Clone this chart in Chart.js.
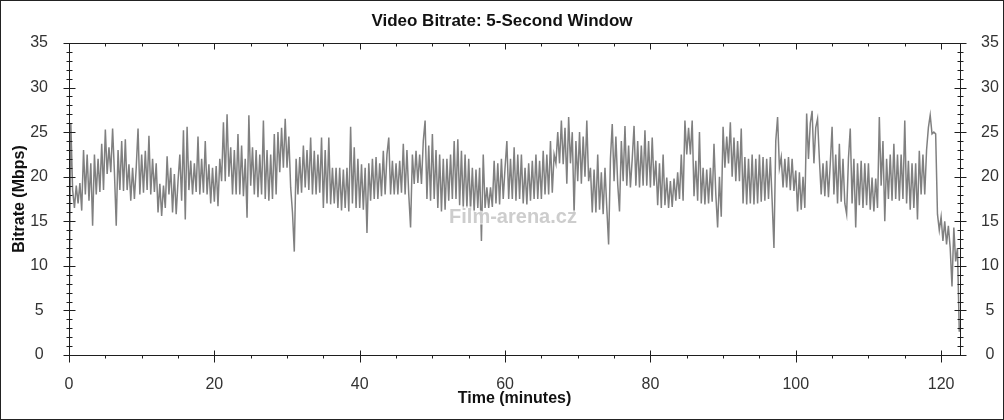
<!DOCTYPE html>
<html>
<head>
    <title>Video Bitrate: 5-Second Window</title>
    <script src="https://cdn.jsdelivr.net/npm/chart.js"></script>
    <style>
        body { margin: 0; background: #fff; }
    </style>
</head>
<body>
    <canvas id="myChart" width="1004" height="420"></canvas>

    <script>
        // bitrate, one sample every quarter minute starting at 0
        // (one row = 2 minutes)
        var sampleStep = 0.25;
        var bitrate = [
            3, 26, 18.5, 16.5, 19, 17, 19.3, 16.2,
            23, 18, 22.5, 17.3, 21.5, 14.5, 22.5, 18,
            22, 18.3, 23.7, 18.5, 25.3, 20.3, 23.3, 20.5,
            25.4, 20.5, 14.5, 23, 18.5, 24, 18.4, 24.2,
            18.5, 21.4, 17.3, 21, 17.5, 21, 25.4, 18,
            22.5, 18.2, 22.9, 18.5, 24.6, 18, 22, 18.3,
            21.5, 16, 19.2, 15.6, 19, 16.5, 22.3, 18,
            21, 16, 20.3, 15.8, 19.5, 22.5, 17.3, 25.2,
            15.2, 25.6, 18.5, 21.8, 18, 21.5, 18.3, 24.5,
            18, 22, 18.2, 24, 18, 21.4, 17, 21,
            17.2, 21.2, 16.7, 22, 19.5, 26.1, 19.5, 27,
            20, 23.3, 18, 23, 18, 24.8, 18, 23.5,
            17.8, 22, 15.4, 26.9, 19, 23.3, 18, 23,
            17.7, 22.5, 18, 26.3, 17.5, 23, 17.3, 22.5,
            17.5, 24.8, 18, 25, 20.5, 25.5, 21, 26.5,
            21, 24.5, 18.8, 16, 11.6, 22, 18, 22.2,
            18.2, 23.5, 18.8, 23, 18.5, 24.4, 18, 22.9,
            18, 22.5, 18.2, 24.4, 16.5, 23, 17, 24.4,
            16.9, 21, 17, 21, 16.5, 21, 16.2, 20.8,
            16.5, 21, 16.1, 25.6, 17, 23.3, 16.5, 22,
            16.5, 21.4, 16.3, 21, 13.7, 21.5, 17.3, 22,
            17.5, 22.2, 17.5, 21.5, 17.8, 22.9, 18, 22.5,
            24.4, 18, 21.8, 18, 21.5, 18, 21.8, 18.2,
            23.7, 18, 23, 18, 14.3, 22.5, 19.2, 22.9,
            19.3, 22.5, 19.2, 24, 26.3, 17.5, 23.5, 17.3,
            24.8, 17.5, 23, 16.5, 22.5, 16.1, 22, 16.3,
            22, 17.3, 22.5, 17.5, 24, 17.5, 24.2, 16.8,
            22.9, 16.5, 22.5, 16.5, 22, 16.2, 21, 16.1,
            20.8, 16.5, 21, 12.8, 22.5, 16.5, 18.8, 16.5,
            18.8, 16.6, 21.8, 17, 21.5, 16.9, 22, 17.5,
            21, 24, 17.5, 22, 17.5, 23.3, 17.3, 22.5,
            17.5, 22.5, 17, 21, 16.9, 21.5, 17.3, 21.8,
            17.5, 22.5, 17.5, 21.8, 17.5, 22.9, 18, 22.5,
            18, 24, 18.2, 22.5, 21.5, 25, 21.5, 26.3,
            21.4, 25.5, 19.2, 26.7, 21.5, 25, 15.8, 24,
            19.5, 25, 19.2, 24.5, 20, 26.3, 19.5, 21,
            16, 20.8, 16, 22.5, 16.3, 20.5, 15.8, 21,
            16.5, 12.4, 22, 25.9, 19.5, 24.5, 19.2, 16.1,
            24, 19.5, 25.7, 19, 23.5, 18.8, 22, 25.7,
            19, 24, 18.8, 23.5, 19, 25.2, 19, 24,
            18.8, 24.4, 19, 21.8, 16.8, 21.5, 16.5, 22.5,
            16.8, 19.9, 16.5, 19.5, 16.6, 19.8, 17.3, 20.5,
            17.5, 22.5, 17.3, 26.3, 22.5, 25.5, 22.5, 26.3,
            17.8, 21.8, 17.3, 25, 17, 21, 16.9, 20.8,
            17, 21, 17.2, 23.7, 18, 14.3, 20, 15.5,
            25.6, 21, 24.5, 21.5, 26.1, 20, 24.4, 19.5,
            24, 19.5, 25.4, 17, 22.2, 16.9, 22, 17,
            22.5, 16.9, 22, 17, 22.5, 17.2, 22.2, 17.3,
            22, 17.5, 22.2, 17.3, 12, 24, 26.7, 21,
            22.2, 18.8, 22, 18.8, 22.2, 18.5, 22, 18.4,
            20.7, 16.1, 20.5, 16.3, 20, 16.5, 27.1, 22,
            26, 27.4, 21.5, 25.5, 26.5, 22, 18, 21.5,
            17.8, 21.8, 17.7, 21.5, 25.6, 18, 22.5, 17,
            23.7, 17.2, 22, 17, 15.8, 22, 25.4, 17,
            22, 14.3, 21.5, 16.8, 21.8, 16.5, 21.5, 16.8,
            21.5, 16.3, 19.9, 16.1, 19.8, 16.5, 26.7, 19,
            24, 15, 22, 17.5, 22.5, 17.3, 23.7, 17.5,
            22.5, 17.3, 22.5, 17.5, 26.3, 17, 21.8, 16.3,
            21.5, 16.5, 21.5, 15.2, 22.9, 18, 22.5, 18,
            23, 25.5, 26.9, 24.8, 25, 24.8, 15.8, 14,
            15.5, 12.8, 15, 12.4, 14.5, 12, 7.7, 14.3,
            10.5, 12, 2.6
        ];

        var xMax = 122.6;
        var yMax = 35;
        var xStep = 20, xMinorStep = 5;
        var yStep = 5, yMinorStep = 1;

        var titleText = 'Video Bitrate: 5-Second Window';
        var xTitle = 'Time (minutes)';
        var yTitle = 'Bitrate (Mbps)';
        var watermark = 'Film-arena.cz';

        var fontName = "'Liberation Sans', Arial, sans-serif";

        var points = bitrate.map(function (v, i) {
            return { x: i * sampleStep, y: v };
        });

        // frame, small tick marks, titles, watermark
        var decor = {
            id: 'decor',
            afterDatasetsDraw: function (chart) {
                var ctx = chart.ctx;
                ctx.save();
                ctx.font = 'bold 20px ' + fontName;
                ctx.textAlign = 'left';
                ctx.textBaseline = 'middle';
                ctx.lineWidth = 3;
                ctx.strokeStyle = 'rgba(255,255,255,0.7)';
                ctx.fillStyle = 'rgba(200,200,200,0.9)';
                var wx = chart.scales.x.getPixelForValue(52.3);
                var wy = chart.scales.y.getPixelForValue(15.4);
                ctx.strokeText(watermark, wx, wy);
                ctx.fillText(watermark, wx, wy);
                ctx.restore();
            },
            afterDraw: function (chart) {
                var ctx = chart.ctx, a = chart.chartArea;
                var xs = chart.scales.x, ys = chart.scales.y;
                var L = Math.round(a.left) + 0.5, R = Math.round(a.right) + 0.5;
                var T = Math.round(a.top) + 0.5, B = Math.round(a.bottom) + 0.5;
                ctx.save();
                ctx.strokeStyle = '#1e1e1e';
                ctx.lineWidth = 1;
                ctx.beginPath();
                ctx.rect(L, T, R - L, B - T);
                for (var v = 0; v <= yMax; v += yMinorStep) {
                    var py = Math.round(ys.getPixelForValue(v)) + 0.5;
                    var n = v % yStep === 0 ? 6 : 3;
                    ctx.moveTo(L - n, py); ctx.lineTo(L + n, py);
                    ctx.moveTo(R - n, py); ctx.lineTo(R + n, py);
                }
                for (var t = 0; t <= 120; t += xMinorStep) {
                    var px = Math.round(xs.getPixelForValue(t)) + 0.5;
                    var big = t % xStep === 0;
                    ctx.moveTo(px, B - (big ? 5 : 0)); ctx.lineTo(px, B + (big ? 7 : 3));
                    ctx.moveTo(px, T); ctx.lineTo(px, T + (big ? 6 : 3));
                }
                ctx.stroke();

                ctx.fillStyle = '#111';
                ctx.textAlign = 'center';
                ctx.textBaseline = 'middle';
                ctx.font = 'bold 17px ' + fontName;
                ctx.fillText(titleText, 502, 21);
                ctx.font = 'bold 16px ' + fontName;
                ctx.fillText(xTitle, (a.left + a.right) / 2, 399);
                ctx.translate(20, (a.top + a.bottom) / 2);
                ctx.rotate(-Math.PI / 2);
                ctx.fillText(yTitle, 0, 0);
                ctx.restore();

                ctx.save();
                ctx.strokeStyle = '#222';
                ctx.strokeRect(0.5, 0.5, chart.width - 1, chart.height - 1);
                ctx.restore();
            }
        };

        var tickFont = { family: fontName, size: 16 };

        var ctx = document.getElementById('myChart').getContext('2d');
        var myChart = new Chart(ctx, {
            type: 'line',
            data: {
                datasets: [{
                    data: points,
                    borderColor: '#808080',
                    borderWidth: 1.5,
                    pointRadius: 0,
                    tension: 0,
                    fill: false
                }]
            },
            options: {
                responsive: false,
                animation: false,
                layout: { padding: { top: 43 } },
                plugins: {
                    legend: { display: false },
                    tooltip: { enabled: false },
                    title: { display: false }
                },
                scales: {
                    x: {
                        type: 'linear',
                        min: 0,
                        max: xMax,
                        grid: { display: false },
                        border: { display: false },
                        ticks: {
                            stepSize: xStep,
                            includeBounds: false,
                            autoSkip: false,
                            maxRotation: 0,
                            padding: 12,
                            color: '#333',
                            font: tickFont
                        },
                        afterFit: function (s) { s.height = 65; }
                    },
                    y: {
                        position: 'left',
                        min: 0,
                        max: yMax,
                        grid: { display: false },
                        border: { display: false },
                        ticks: {
                            stepSize: yStep,
                            crossAlign: 'center',
                            padding: 13,
                            color: '#333',
                            font: tickFont
                        },
                        afterFit: function (s) { s.width = 69; }
                    },
                    y2: {
                        position: 'right',
                        min: 0,
                        max: yMax,
                        grid: { display: false },
                        border: { display: false },
                        ticks: {
                            stepSize: yStep,
                            crossAlign: 'center',
                            padding: 13,
                            color: '#333',
                            font: tickFont
                        },
                        afterFit: function (s) { s.width = 44; }
                    }
                }
            },
            plugins: [decor]
        });
    </script>
</body>
</html>
